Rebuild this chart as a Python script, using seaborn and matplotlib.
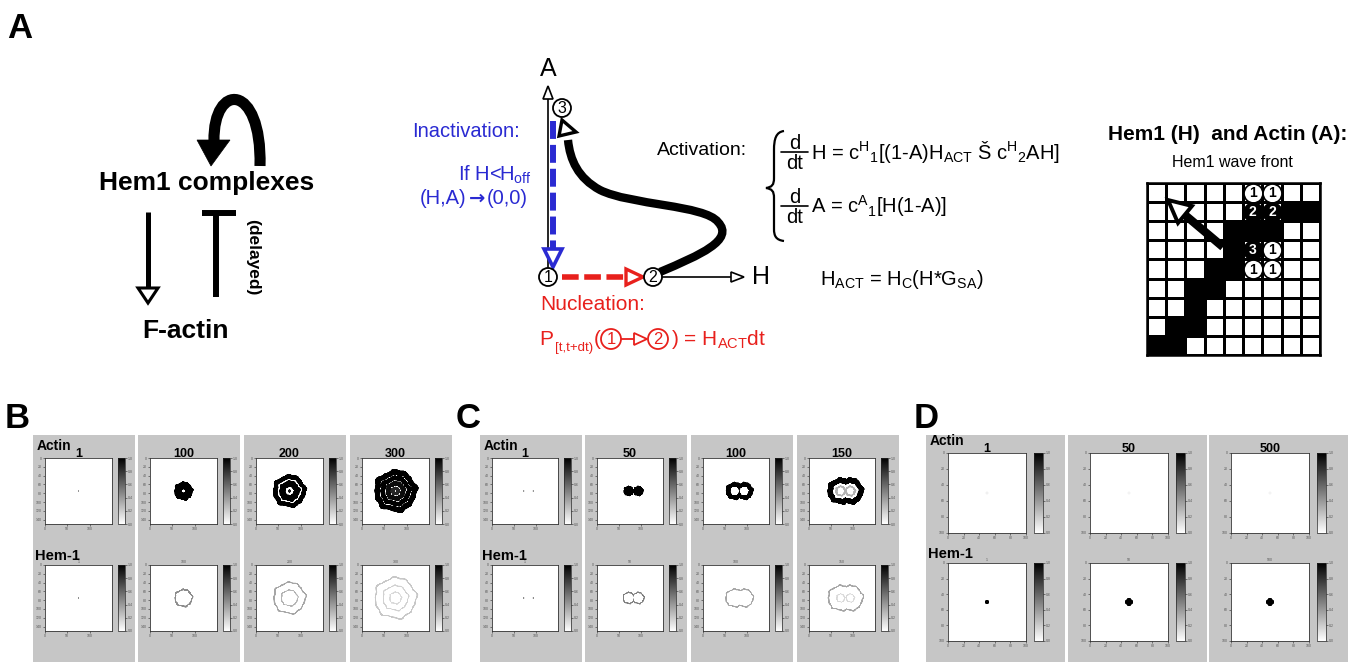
import numpy as np
import pandas as pd
import matplotlib
matplotlib.use("Agg")
import matplotlib.pyplot as plt
import seaborn as sns
from matplotlib.patches import Rectangle, Circle, Polygon, PathPatch
from matplotlib.path import Path
from matplotlib.colors import ListedColormap

# ---------------- data ----------------
B_TIMES = ["1", "100", "200", "300"]
C_TIMES = ["1", "50", "100", "150"]
D_TIMES = ["1", "50", "500"]

# ring bands per snapshot: (radius, half-width, intensity) in grid units
B_ACTIN = [[(0, 1.8, 0.55)],
           [(12.5, 9, 1.0)],
           [(32, 5.5, 1.0), (16, 7.5, 1.0), (0, 4, 0.9)],
           [(42, 6.5, 1.0), (29, 5.5, 1.0), (17, 5.5, 0.95), (6, 4, 0.85)]]
B_HEM = [[(0, 1.8, 0.6)],
         [(19, 2.0, 0.45)],
         [(35, 1.8, 0.35), (18, 1.5, 0.3)],
         [(46, 1.8, 0.22), (28, 1.5, 0.18), (13, 1.5, 0.15)]]
C_ACTIN = [[(0, 1.8, 0.55)],
           [(0, 12, 1.0)],
           [(15, 5.5, 1.0)],
           [(24, 6.5, 1.0), (10, 2.5, 0.3)]]
C_HEM = [[(0, 1.8, 0.6)],
         [(12.5, 1.6, 0.5)],
         [(20, 1.6, 0.35)],
         [(28, 1.8, 0.35), (9, 1.5, 0.15)]]
D_ACTIN = [[(0, 1.5, 0.06)], [(0, 1.5, 0.05)], [(0, 1.5, 0.05)]]
D_HEM = [[(0, 2.2, 1.0)], [(0, 5, 1.0)], [(0, 5, 1.0)]]

BC_GRID = 150
D_GRID = 100
B_CENTERS = [(75, 75)]
C_CENTERS = [(72, 75), (94, 75)]
D_CENTERS = [(50, 50)]
WOBBLE = [(5, 0.035, 0.4), (8, 0.03, 1.3), (13, 0.02, 2.2)]

BC_YTICKS = [0, 20, 40, 60, 80, 100, 120, 140]
BC_XTICKS = [0, 50, 100]
D_YTICKS = [0, 20, 40, 60, 80, 100]
D_XTICKS = [0, 20, 40, 60, 80, 100]

GRID_N = 9
GRID_BLACK = [(1, 7), (1, 8), (2, 4), (2, 5), (2, 6), (3, 4), (4, 3), (4, 4),
              (5, 2), (5, 3), (6, 2), (7, 1), (7, 2), (8, 0), (8, 1)]
GRID_CIRCLES = [(0, 5, "1"), (0, 6, "1"), (1, 5, "2"), (1, 6, "2"),
                (3, 5, "3"), (3, 6, "1"), (4, 5, "1"), (4, 6, "1")]
FILLED_STATES = {"2", "3"}

# ---------------- style ----------------
sns.set_theme(style="white")
plt.rcParams["font.family"] = ["Liberation Sans", "DejaVu Sans"]
plt.rcParams["mathtext.default"] = "regular"

BLUE = "#2a2ad2"
RED = "#e8201c"
GRAY = "#c6c6c6"

W, H = 1366, 662
fig = plt.figure(figsize=(W / 100, H / 100), dpi=100)
fig.patch.set_facecolor("white")


def frac(x0, y0, x1, y1):
    return [x0 / W, 1 - y1 / H, (x1 - x0) / W, (y1 - y0) / H]


def overlay(z):
    a = fig.add_axes([0, 0, 1, 1])
    a.set_xlim(0, W)
    a.set_ylim(H, 0)
    a.axis("off")
    a.set_zorder(z)
    a.patch.set_alpha(0)
    return a


ax_bg = overlay(-1)
ax = overlay(10)


def txt(x, y, s, size, weight="normal", color="black", ha="left", va="baseline", **kw):
    ax.text(x, y, s, fontsize=size, fontweight=weight, color=color, ha=ha, va=va, **kw)


def tri(pts, fc, ec, lw):
    ax.add_patch(Polygon(pts, closed=True, fc=fc, ec=ec, lw=lw, joinstyle="miter", zorder=5))


def bez(verts, lw, color="black", zorder=4):
    codes = [Path.MOVETO] + [Path.CURVE4] * (len(verts) - 1)
    ax.add_patch(PathPatch(Path(verts, codes), fc="none", ec=color, lw=lw,
                           capstyle="butt", zorder=zorder))


# ---------------- panel letters ----------------
txt(7, 38, "A", 25, "bold")
txt(5, 428, "B", 25, "bold")
txt(456, 428, "C", 25, "bold")
txt(914, 428, "D", 25, "bold")

# ---------------- A: network diagram ----------------
txt(207, 190, "Hem1 complexes", 19, "bold", ha="center")
txt(185, 338, "F-actin", 19, "bold", ha="center")
bez([(260, 166), (262, 82), (213, 82), (214, 141)], lw=8)
tri([(197, 140), (230, 140), (211, 166)], "black", "black", 0.5)
ax.plot([148, 148], [212, 289], color="black", lw=3.6, solid_capstyle="butt")
tri([(138, 288), (158, 288), (148, 303)], "white", "black", 2.2)
ax.plot([216, 216], [212, 297], color="black", lw=4.3, solid_capstyle="butt")
ax.plot([202, 236], [213, 213], color="black", lw=4.3, solid_capstyle="butt")
txt(253, 257, "(delayed)", 12.5, "bold", ha="center", va="center", rotation=-90)

# ---------------- A: phase diagram ----------------
ax.plot([548, 548], [268, 98], color="black", lw=1.2)
tri([(543, 99), (553, 99), (548, 86)], "white", "black", 1.2)
ax.plot([662, 731], [277, 277], color="black", lw=1.2)
tri([(731, 272), (731, 282), (744, 277)], "white", "black", 1.2)
txt(548, 76, "A", 18, ha="center")
txt(752, 284, "H", 18)

# black activation trajectory
bez([(660, 272), (700, 255), (735, 240), (718, 222),
     (705, 205), (630, 205), (600, 190),
     (578, 178), (570, 160), (568, 140)], lw=6)
tri([(562, 120), (576, 132), (559, 136)], "white", "black", 2.4)

# blue inactivation
ax.plot([553, 553], [121, 249], color=BLUE, lw=4.3, linestyle=(0, (3.0, 1.0)),
        dash_capstyle="butt", zorder=4)
tri([(544, 249), (562, 249), (553, 267)], "white", BLUE, 2.6)
# red nucleation
ax.plot([562, 626], [277, 277], color=RED, lw=4.0, linestyle=(0, (3.0, 1.0)),
        dash_capstyle="butt", zorder=4)
tri([(626, 269), (626, 285), (643, 277)], "white", RED, 2.4)

for (cx, cy, lab) in [(562, 108, "3"), (548, 277, "1"), (653, 277, "2")]:
    ax.add_patch(Circle((cx, cy), 9, fc="white", ec="black", lw=1.3, zorder=6))
    txt(cx, cy + 0.5, lab, 11.5, ha="center", va="center", zorder=7)

txt(520, 137, "Inactivation:", 14.5, color=BLUE, ha="right")
txt(532, 181, "If H<H$_{off}$", 14.5, color=BLUE, ha="right")
txt(466, 204, "(H,A)", 14.5, color=BLUE, ha="right")
ax.text(477, 204, "→", fontsize=14, color=BLUE, ha="center", va="baseline",
        family=["DejaVu Sans"], fontweight="bold")
txt(487, 204, "(0,0)", 14.5, color=BLUE)

txt(540, 310, "Nucleation:", 15, color=RED)
txt(539, 345, "P", 15, color=RED)
txt(555, 351, "[t,t+dt)", 9.5, color=RED)
txt(594, 345, "(", 15, color=RED)
for (cx, lab) in [(611, "1"), (658, "2")]:
    ax.add_patch(Circle((cx, 339), 10, fc="white", ec=RED, lw=1.3, zorder=6))
    txt(cx, 339.5, lab, 12, color=RED, ha="center", va="center", zorder=7)
ax.plot([621, 634], [339, 339], color=RED, lw=1.3)
tri([(634, 333), (634, 345), (647, 339)], "white", RED, 1.3)
txt(671, 345, ") = H$_{ACT}$dt", 15, color=RED)

# ---------------- A: equations ----------------
txt(657, 155, "Activation:", 14)
ax.add_patch(PathPatch(Path(
    [(784, 131), (776, 132), (774, 139), (774, 150),
     (774, 178),
     (774, 185), (772, 187), (766, 188),
     (772, 189), (774, 191), (774, 198),
     (774, 229),
     (774, 236), (776, 240), (784, 241)],
    [Path.MOVETO, Path.CURVE4, Path.CURVE4, Path.CURVE4,
     Path.LINETO,
     Path.CURVE4, Path.CURVE4, Path.CURVE4,
     Path.CURVE4, Path.CURVE4, Path.CURVE4,
     Path.LINETO,
     Path.CURVE4, Path.CURVE4, Path.CURVE4]),
    fc="none", ec="black", lw=1.6, zorder=4))
for ybar, rhs in [(152, "H = c${}^{H}{}_{1}$[(1-A)H$_{ACT}$ Š c${}^{H}{}_{2}$AH]"),
                  (206, "A = c${}^{A}{}_{1}$[H(1-A)]")]:
    txt(795, ybar - 3, "d", 14.5, ha="center")
    ax.plot([781, 808], [ybar, ybar], color="black", lw=1.2)
    txt(795, ybar + 17, "dt", 14.5, ha="center")
    txt(811, ybar + 7, rhs, 14.5)
txt(820, 285, "H$_{ACT}$ = H$_{C}$(H*G$_{SA}$)", 14.5)

# ---------------- A: lattice ----------------
txt(1228, 140, "Hem1 (H)  and Actin (A):", 15, "bold", ha="center")
txt(1232, 167, "Hem1 wave front", 11.5, ha="center")
grid = np.zeros((GRID_N, GRID_N))
for r, c in GRID_BLACK:
    grid[r, c] = 1
axg = fig.add_axes(frac(1147, 183, 1320, 355))
sns.heatmap(pd.DataFrame(grid), ax=axg, cmap=ListedColormap(["white", "black"]),
            vmin=0, vmax=1, cbar=False, linewidths=1.8, linecolor="black",
            xticklabels=False, yticklabels=False)
for s in axg.spines.values():
    s.set_visible(True)
    s.set_linewidth(1.8)
    s.set_color("black")
for r, c, lab in GRID_CIRCLES:
    filled = lab in FILLED_STATES
    axg.scatter([c + 0.5], [r + 0.5], s=185, marker="o",
                facecolor="black" if filled else "white", edgecolor="black",
                linewidth=1.2, zorder=3)
    axg.text(c + 0.5, r + 0.53, lab, fontsize=10, fontweight="bold",
             color="white" if filled else "black", ha="center", va="center", zorder=4)
# wave direction arrow
ax.plot([1223, 1185], [247, 215], color="black", lw=6, solid_capstyle="butt", zorder=5)
tri([(1168, 200), (1192, 206), (1178, 223)], "white", "black", 2.8)

# ---------------- B, C, D simulations ----------------


def ring_image(n, centers, bands):
    yy, xx = np.mgrid[0:n, 0:n] + 0.5
    d = np.full((n, n), np.inf)
    th = np.zeros((n, n))
    for cx, cy in centers:
        dd = np.hypot(xx - cx, yy - cy)
        th = np.where(dd < d, np.arctan2(yy - cy, xx - cx), th)
        d = np.minimum(d, dd)
    mod = 1 + sum(a * np.cos(k * th + p) for k, a, p in WOBBLE)
    img = np.zeros((n, n))
    for r, w, v in bands:
        dist = d / mod if (r + w) > 6 else d
        band = v * np.clip((w - np.abs(dist - r)) / 0.9 + 0.5, 0, 1)
        img = np.maximum(img, band)
    return img


def draw_image(rect, crect, img, yt, xt):
    a = fig.add_axes(frac(*rect))
    ca = fig.add_axes(frac(*crect))
    sns.heatmap(img, ax=a, cbar_ax=ca, cmap="gray_r", vmin=0, vmax=1,
                xticklabels=False, yticklabels=False, rasterized=True)
    a.set_xticks(xt)
    a.set_xticklabels([str(t) for t in xt])
    a.set_yticks(yt)
    a.set_yticklabels([str(t) for t in yt])
    a.tick_params(bottom=True, left=True, length=1.2, width=0.4, labelsize=2.5,
                  labelcolor="#555555", pad=0.8, rotation=0)
    for s in a.spines.values():
        s.set_visible(True)
        s.set_linewidth(0.6)
        s.set_color("#333333")
    ca.tick_params(right=True, length=1.2, width=0.4, labelsize=2.5,
                   labelcolor="#555555", pad=0.8)
    cb = a.collections[0].colorbar
    if cb is not None:
        cb.outline.set_linewidth(0.5)
    return a


def draw_set(xs, width, times, actin, hem, centers, n, img_off, cb_off, rows, yt, xt,
             title_y):
    for i, x in enumerate(xs):
        ax_bg.add_patch(Rectangle((x, 435), width, H - 435, fc=GRAY, ec="none"))
        for j, (bands, (y0, y1)) in enumerate(zip([actin[i], hem[i]], rows)):
            img = ring_image(n, centers, bands)
            draw_image((x + img_off[0], y0, x + img_off[1], y1),
                       (x + cb_off[0], y0, x + cb_off[1], y1), img, yt, xt)
            if j == 1:
                txt((2 * x + img_off[0] + img_off[1]) / 2, y0 - 2, times[i], 2.5,
                    color="#555555", ha="center")
        txt((2 * x + img_off[0] + img_off[1]) / 2, title_y, times[i], 9, "bold",
            ha="center")
    txt(xs[0] + 4, rows[0][0] - 8, "Actin", 10, "bold")
    txt(xs[0] + 2, rows[1][0] - 5, "Hem-1", 10.5, "bold")


BC_ROWS = [(458, 524), (565, 631)]
D_ROWS = [(453, 533), (563, 641)]
draw_set([33, 138, 244, 350], 102, B_TIMES, B_ACTIN, B_HEM, B_CENTERS, BC_GRID,
         (12, 79), (85, 92), BC_ROWS, BC_YTICKS, BC_XTICKS, 457)
draw_set([480, 585, 691, 797], 102, C_TIMES, C_ACTIN, C_HEM, C_CENTERS, BC_GRID,
         (12, 78), (84, 91), BC_ROWS, BC_YTICKS, BC_XTICKS, 457)
draw_set([926, 1068, 1209], 139, D_TIMES, D_ACTIN, D_HEM, D_CENTERS, D_GRID,
         (22, 100), (108, 117), D_ROWS, D_YTICKS, D_XTICKS, 452)

fig.savefig("out.png", dpi=100, facecolor="white")
